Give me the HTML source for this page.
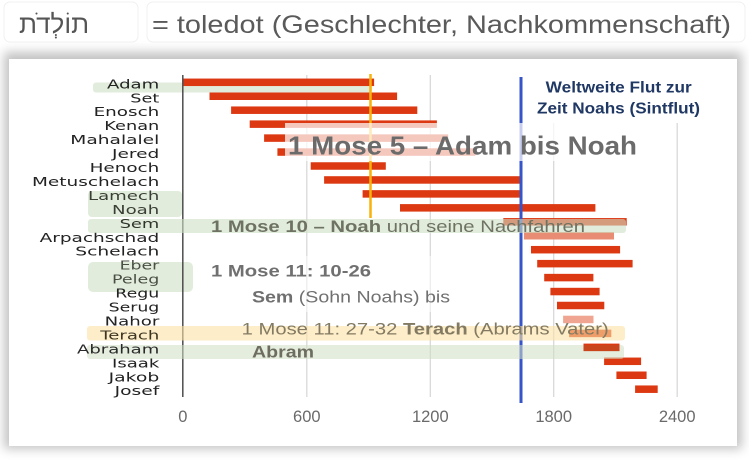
<!DOCTYPE html>
<html>
<head>
<meta charset="utf-8">
<style>
  html,body{margin:0;padding:0;background:#fff;}
  body{width:749px;height:465px;position:relative;overflow:hidden;}
  .card{position:absolute;left:9px;top:59px;width:728px;height:387px;background:#fff;
        box-shadow:0 -2px 10px 5px rgba(0,0,0,0.24);}
  svg{position:absolute;left:0;top:0;}
</style>
</head>
<body>
<div class="card"></div>
<svg width="749" height="465" viewBox="0 0 749 465" xmlns="http://www.w3.org/2000/svg">
  <!-- header boxes -->
  <rect x="4" y="2" width="134" height="40" rx="6" fill="#fff" stroke="#f0f0f0" stroke-width="1"/>
  <rect x="147" y="2" width="598" height="40" rx="6" fill="#fff" stroke="#f0f0f0" stroke-width="1"/>
  <text x="54" y="33" font-family="'Liberation Sans','DejaVu Sans',sans-serif" font-size="26" fill="#555" text-anchor="middle" direction="rtl">תוֹלְדֹת</text>
  <text x="152" y="33" font-family="'Liberation Sans',sans-serif" font-size="25" fill="#5a5a5a" textLength="579" lengthAdjust="spacingAndGlyphs">= toledot (Geschlechter, Nachkommenschaft)</text>

  <!-- gridlines -->
  <g stroke="#d6d6d6" stroke-width="1.2">
    <line x1="306.8" y1="75" x2="306.8" y2="397"/>
    <line x1="430.3" y1="75" x2="430.3" y2="397"/>
    <line x1="553.7" y1="123" x2="553.7" y2="397"/>
    <line x1="677.2" y1="123" x2="677.2" y2="397"/>
  </g>

  <!-- faint box around 1 Mose 11 text -->
  <rect x="205" y="256" width="290" height="56" fill="rgba(255,255,255,0.5)"/>

  <!-- label highlight boxes -->
  <rect x="93" y="82.5" width="279" height="10" rx="3" fill="#e2ecdc"/>
  <rect x="88" y="191" width="94" height="26" rx="4" fill="#e2ecdc"/>
  <rect x="88" y="262" width="105" height="30" rx="5" fill="#e2ecdc"/>

  <!-- labels -->
  <g font-family="'DejaVu Sans',sans-serif" font-size="12" fill="#222" text-anchor="end">
    <text x="159.3" y="88.3" textLength="52.3" lengthAdjust="spacingAndGlyphs">Adam</text>
    <text x="159.3" y="102.25" textLength="29" lengthAdjust="spacingAndGlyphs">Set</text>
    <text x="159.3" y="116.2" textLength="65.7" lengthAdjust="spacingAndGlyphs">Enosch</text>
    <text x="159.3" y="130.15" textLength="55" lengthAdjust="spacingAndGlyphs">Kenan</text>
    <text x="159.3" y="144.1" textLength="89" lengthAdjust="spacingAndGlyphs">Mahalalel</text>
    <text x="159.3" y="158.05" textLength="47.3" lengthAdjust="spacingAndGlyphs">Jered</text>
    <text x="159.3" y="172.0" textLength="69.7" lengthAdjust="spacingAndGlyphs">Henoch</text>
    <text x="159.3" y="185.95" textLength="127.3" lengthAdjust="spacingAndGlyphs">Metuschelach</text>
    <text x="159.3" y="199.9" textLength="71.3" lengthAdjust="spacingAndGlyphs" fill="#3a3f36">Lamech</text>
    <text x="159.3" y="213.85" textLength="47.3" lengthAdjust="spacingAndGlyphs" fill="#3a3f36">Noah</text>
    <text x="159.3" y="241.75" textLength="119.7" lengthAdjust="spacingAndGlyphs">Arpachschad</text>
    <text x="159.3" y="255.7" textLength="84" lengthAdjust="spacingAndGlyphs">Schelach</text>
    <text x="159.3" y="269.65" textLength="39.7" lengthAdjust="spacingAndGlyphs" fill="#4a4f46">Eber</text>
    <text x="159.3" y="283.6" textLength="47.3" lengthAdjust="spacingAndGlyphs" fill="#4a4f46">Peleg</text>
    <text x="159.3" y="297.55" textLength="44" lengthAdjust="spacingAndGlyphs">Regu</text>
    <text x="159.3" y="311.5" textLength="50.7" lengthAdjust="spacingAndGlyphs">Serug</text>
    <text x="159.3" y="325.45" textLength="54.7" lengthAdjust="spacingAndGlyphs">Nahor</text>
    <text x="159.3" y="367.3" textLength="47.3" lengthAdjust="spacingAndGlyphs">Isaak</text>
    <text x="159.3" y="381.25" textLength="50.7" lengthAdjust="spacingAndGlyphs">Jakob</text>
    <text x="159.3" y="395.2" textLength="44.7" lengthAdjust="spacingAndGlyphs">Josef</text>
  </g>

  <!-- bars -->
  <g fill="#dc3912">
    <rect x="182.8" y="78.55" width="191.3" height="7.5"/>
    <rect x="209.5" y="92.5" width="187.6" height="7.5"/>
    <rect x="231.1" y="106.45" width="186.2" height="7.5"/>
    <rect x="249.7" y="120.4" width="187.2" height="7.5"/>
    <rect x="264.1" y="134.35" width="184.1" height="7.5"/>
    <rect x="277.4" y="148.3" width="197.9" height="7.5"/>
    <rect x="310.7" y="162.25" width="75.1" height="7.5"/>
    <rect x="324.1" y="176.2" width="197.3" height="7.5"/>
    <rect x="362.6" y="190.15" width="158.8" height="7.5"/>
    <rect x="400.0" y="204.1" width="195.4" height="7.5"/>
    <rect x="503.3" y="218.05" width="123.4" height="7.5"/>
    <rect x="523.9" y="232.0" width="90.1" height="7.5" fill="#e98c74"/>
    <rect x="531.0" y="245.95" width="89.1" height="7.5"/>
    <rect x="537.2" y="259.9" width="95.4" height="7.5"/>
    <rect x="544.2" y="273.85" width="49.2" height="7.5"/>
    <rect x="550.4" y="287.8" width="49.2" height="7.5"/>
    <rect x="557.0" y="301.75" width="47.3" height="7.5"/>
    <rect x="563.1" y="315.7" width="30.4" height="7.5" fill="#efa592"/>
    <rect x="569.1" y="329.65" width="42.2" height="7.5"/>
    <rect x="583.5" y="343.6" width="36.0" height="7.5"/>
    <rect x="604.1" y="357.55" width="37.0" height="7.5"/>
    <rect x="616.4" y="371.5" width="30.2" height="7.5"/>
    <rect x="635.1" y="385.45" width="22.6" height="7.5"/>
  </g>

  <!-- axis -->
  <line x1="182.8" y1="75" x2="182.8" y2="397" stroke="#4d4d4d" stroke-width="1.5"/>
  <!-- orange line -->
  <line x1="370.5" y1="74" x2="370.5" y2="218" stroke="#f9b208" stroke-width="2.5"/>
  <!-- blue flood line -->
  <line x1="521" y1="77" x2="521" y2="403" stroke="#3655c9" stroke-width="3"/>

  <!-- white box for 1 Mose 5 -->
  <rect x="285" y="123" width="363" height="38" fill="rgba(255,255,255,0.72)"/>

  <!-- overlay bands -->
  <rect x="88" y="219" width="538" height="14" rx="3" fill="rgba(207,223,197,0.6)"/>
  <rect x="87" y="326" width="538" height="14.5" rx="3" fill="rgba(251,225,163,0.6)"/>
  <rect x="87" y="345" width="537" height="14" rx="3" fill="rgba(207,223,197,0.55)"/>
  <rect x="583.5" y="345" width="36.0" height="6.1" fill="#c9461c"/>

  <!-- labels over bands -->
  <g font-family="'DejaVu Sans',sans-serif" font-size="12" text-anchor="end">
    <text x="159.3" y="227.8" textLength="39.7" lengthAdjust="spacingAndGlyphs" fill="#2f342c">Sem</text>
    <text x="159.3" y="339.4" textLength="59" lengthAdjust="spacingAndGlyphs" fill="#3d3522">Terach</text>
    <text x="159.3" y="353.35" textLength="82.3" lengthAdjust="spacingAndGlyphs" fill="#2a2a2a">Abraham</text>
  </g>

  <!-- tick labels -->
  <g font-family="'Liberation Sans',sans-serif" font-size="16.5" fill="#6a6a6a" text-anchor="middle">
    <text x="182.8" y="422">0</text>
    <text x="306.8" y="422">600</text>
    <text x="430.3" y="422">1200</text>
    <text x="553.7" y="422">1800</text>
    <text x="677.2" y="422">2400</text>
  </g>

  <!-- annotation texts -->
  <text x="288" y="154.3" font-family="'Liberation Sans',sans-serif" font-size="26" font-weight="bold" fill="#6b6b6b" textLength="349" lengthAdjust="spacingAndGlyphs">1 Mose 5 – Adam bis Noah</text>

  <text x="211" y="232" font-family="'Liberation Sans',sans-serif" font-size="17" fill="#6e7262" textLength="374" lengthAdjust="spacingAndGlyphs"><tspan font-weight="bold">1 Mose 10 – Noah</tspan> und seine Nachfahren</text>

  <text x="211" y="276.5" font-family="'Liberation Sans',sans-serif" font-size="17" font-weight="bold" fill="#707070" textLength="160" lengthAdjust="spacingAndGlyphs">1 Mose 11: 10-26</text>

  <text x="252" y="302.5" font-family="'Liberation Sans',sans-serif" font-size="17" fill="#707070" textLength="198" lengthAdjust="spacingAndGlyphs"><tspan font-weight="bold">Sem</tspan> (Sohn Noahs) bis</text>

  <text x="241.7" y="334.5" font-family="'Liberation Sans',sans-serif" font-size="17" fill="#827a62" textLength="367" lengthAdjust="spacingAndGlyphs">1 Mose 11: 27-32 <tspan font-weight="bold">Terach</tspan> (Abrams Vater)</text>

  <text x="252" y="357.5" font-family="'Liberation Sans',sans-serif" font-size="17" font-weight="bold" fill="#6e6e60" textLength="62" lengthAdjust="spacingAndGlyphs">Abram</text>

  <g font-family="'Liberation Sans',sans-serif" font-size="16" font-weight="bold" fill="#203864">
    <text x="545.7" y="92.3" textLength="146" lengthAdjust="spacingAndGlyphs">Weltweite Flut zur</text>
    <text x="537" y="113.3" textLength="163" lengthAdjust="spacingAndGlyphs">Zeit Noahs (Sintflut)</text>
  </g>
</svg>
</body>
</html>
